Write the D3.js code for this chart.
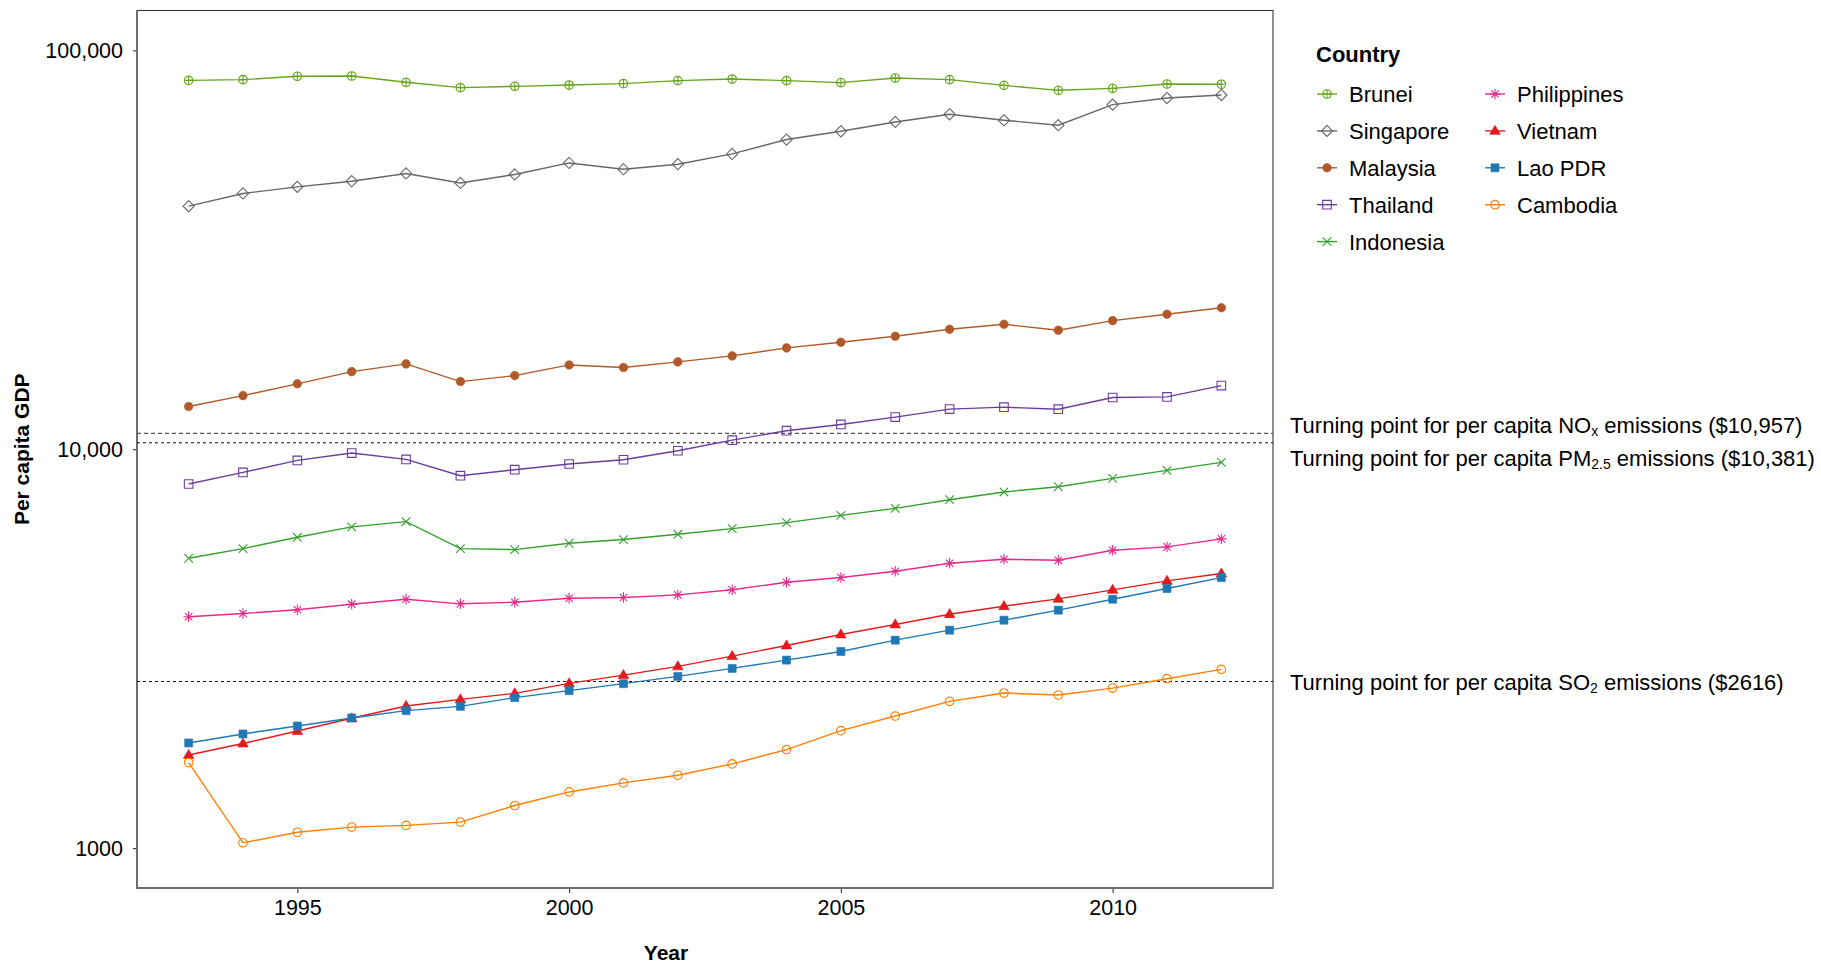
<!DOCTYPE html>
<html>
<head>
<meta charset="utf-8">
<script src="https://cdn.jsdelivr.net/npm/d3@7"></script>
<style>
  body { margin: 0; background: #fff; }
  svg text { font-family: "Liberation Sans", Arial, Helvetica, sans-serif; fill: #000; }
</style>
</head>
<body>
<div id="app"></div>
<script>
// years on the x axis
const years = [1993, 1994, 1995, 1996, 1997, 1998, 1999, 2000, 2001, 2002,
               2003, 2004, 2005, 2006, 2007, 2008, 2009, 2010, 2011, 2012];

// per capita GDP
const brunei      = [84100, 84450, 86100, 86250, 83170, 80650, 81260, 81870, 82540, 83970,
                     84760, 83970, 83020, 85250, 84450, 81730, 79410, 80320, 82370, 82230];
const singapore   = [40690, 43780, 45480, 46990, 49140, 46530, 48850, 52220, 50360, 51830,
                     55010, 59770, 62690, 66150, 69150, 66800, 64920, 73120, 75960, 77290];
const malaysia    = [12800, 13630, 14590, 15650, 16370, 14780, 15300, 16270, 16030, 16560,
                     17140, 17950, 18550, 19200, 19990, 20570, 19880, 21010, 21800, 22640];
const thailand    = [8183, 8748, 9376, 9784, 9430, 8584, 8886, 9184, 9412, 9913,
                     10540, 11130, 11540, 12040, 12610, 12750, 12600, 13480, 13530, 14440];
const indonesia   = [5330, 5636, 6015, 6387, 6584, 5636, 5603, 5811, 5937, 6120,
                     6324, 6546, 6828, 7109, 7474, 7815, 8055, 8451, 8849, 9268];
const philippines = [3802, 3875, 3959, 4088, 4207, 4097, 4135, 4231, 4249, 4315,
                     4442, 4640, 4768, 4944, 5177, 5299, 5267, 5580, 5690, 5961];
const vietnam     = [1712, 1829, 1966, 2116, 2272, 2360, 2443, 2588, 2715, 2855,
                     3029, 3221, 3433, 3637, 3859, 4041, 4217, 4442, 4678, 4880];
const laoPdr      = [1835, 1933, 2024, 2120, 2212, 2267, 2384, 2482, 2584, 2695,
                     2822, 2960, 3112, 3322, 3519, 3728, 3950, 4207, 4476, 4767];
const cambodia    = [1639, 1031, 1096, 1129, 1140, 1162, 1279, 1383, 1457, 1523,
                     1626, 1766, 1970, 2144, 2333, 2448, 2420, 2519, 2659, 2806];

const countries = ['Brunei', 'Singapore', 'Malaysia', 'Thailand', 'Indonesia',
                   'Philippines', 'Vietnam', 'Lao PDR', 'Cambodia'];
const seriesValues = [brunei, singapore, malaysia, thailand, indonesia,
                      philippines, vietnam, laoPdr, cambodia];

// turning points (dashed lines) and their labels: [before, subscript, after]
const turningPoints = [10957, 10381, 2616];
const turningLabels = [
  ['Turning point for per capita NO', 'x', ' emissions ($10,957)'],
  ['Turning point for per capita PM', '2.5', ' emissions ($10,381)'],
  ['Turning point for per capita SO', '2', ' emissions ($2616)']
];

const xTickValues = [1995, 2000, 2005, 2010];
const yTickValues = [1000, 10000, 100000];
const yTickLabels = ['1000', '10,000', '100,000'];

// styles
const colors = ['#66A61E', '#666666', '#B15928', '#6A3D9A', '#33A02C',
                '#E7298A', '#E31A1C', '#1F78B4', '#FF7F00'];
const shapes = ['circlePlus', 'diamond', 'dot', 'square', 'cross',
                'asterisk', 'triangle', 'squareFilled', 'circle'];
const refStyles = [
  { stroke: '#555', dash: '4,3', dy: -8 },
  { stroke: '#111', dash: '3,3', dy: 15 },
  { stroke: '#111', dash: '3,3', dy: 1 }
];

const width = 1821;
const height = 969;
const panel = { left: 137, right: 1273, top: 10.5, bottom: 888 };

const svg = d3.select('#app')
  .append('svg')
  .attr('width', width)
  .attr('height', height);

// ggplot-like 5% expansion
const xScale = d3.scaleLinear()
  .domain([1993 - 0.95, 2012 + 0.95])
  .range([panel.left, panel.right]);

const yScale = d3.scaleLog()
  .domain([Math.pow(10, 2.9), Math.pow(10, 5.1)])
  .range([panel.bottom, panel.top]);

function circ(r) {
  return `M${r},0A${r},${r} 0 1,1 ${-r},0A${r},${r} 0 1,1 ${r},0Z`;
}

function markerPath(shape) {
  switch (shape) {
    case 'circlePlus': { const r = 4.3; return circ(r) + `M${-r},0H${r}M0,${-r}V${r}`; }
    case 'diamond': { const r = 5.6; return `M0,${-r}L${r},0L0,${r}L${-r},0Z`; }
    case 'dot': return circ(4.3);
    case 'square': { const r = 4.3; return `M${-r},${-r}H${r}V${r}H${-r}Z`; }
    case 'cross': { const r = 4.3; return `M${-r},${-r}L${r},${r}M${-r},${r}L${r},${-r}`; }
    case 'asterisk': {
      const r = 5.2, d = 3.7;
      return `M0,${-r}V${r}M${-d},${-d}L${d},${d}M${-d},${d}L${d},${-d}M${-r},0H${r}`;
    }
    case 'triangle': { const r = 5.6; return `M0,${-r}L${r * 0.95},${r * 0.62}L${-r * 0.95},${r * 0.62}Z`; }
    case 'squareFilled': { const r = 4; return `M${-r},${-r}H${r}V${r}H${-r}Z`; }
    default: return circ(4.3);
  }
}
const isFilled = s => s === 'dot' || s === 'triangle' || s === 'squareFilled';

/* axes */
const yAxis = svg.append('g')
  .attr('transform', `translate(${panel.left},0)`)
  .call(d3.axisLeft(yScale).tickValues(yTickValues).tickSize(4).tickPadding(10)
    .tickFormat((d, i) => yTickLabels[i]));
const xAxis = svg.append('g')
  .attr('transform', `translate(0,${panel.bottom})`)
  .call(d3.axisBottom(xScale).tickValues(xTickValues).tickSize(5).tickPadding(7)
    .tickFormat(d3.format('d')));
[xAxis, yAxis].forEach(ax => {
  ax.select('.domain').remove();
  ax.selectAll('line').attr('stroke', '#333').attr('stroke-width', 1.1);
  ax.selectAll('text').attr('font-size', 21.5).attr('fill', '#111');
});

/* panel border */
svg.append('rect')
  .attr('x', panel.left).attr('y', panel.top)
  .attr('width', panel.right - panel.left)
  .attr('height', panel.bottom - panel.top)
  .attr('fill', 'none')
  .attr('stroke', '#333')
  .attr('stroke-width', 1.1);
svg.append('path')
  .attr('d', `M${panel.left},${panel.top}V${panel.bottom}H${panel.right}`)
  .attr('fill', 'none')
  .attr('stroke', '#6e6e6e')
  .attr('stroke-width', 2);

/* turning point lines */
svg.append('g')
  .selectAll('line')
  .data(turningPoints)
  .enter()
  .append('line')
  .attr('x1', panel.left)
  .attr('x2', panel.right)
  .attr('y1', d => yScale(d))
  .attr('y2', d => yScale(d))
  .attr('stroke', (d, i) => refStyles[i].stroke)
  .attr('stroke-width', 1.1)
  .attr('stroke-dasharray', (d, i) => refStyles[i].dash);

const refText = svg.append('g')
  .selectAll('text')
  .data(turningPoints)
  .enter()
  .append('text')
  .attr('x', 1290)
  .attr('y', (d, i) => yScale(d) + refStyles[i].dy)
  .attr('dy', '0.36em')
  .attr('font-size', 22);
refText.append('tspan').text((d, i) => turningLabels[i][0]);
refText.append('tspan').attr('font-size', 14).attr('dy', 3).text((d, i) => turningLabels[i][1]);
refText.append('tspan').attr('dy', -3).text((d, i) => turningLabels[i][2]);

/* series */
const series = countries.map((name, i) => ({
  name,
  color: colors[i],
  shape: shapes[i],
  values: years.map((yr, j) => ({ year: yr, value: seriesValues[i][j] }))
}));

const line = d3.line()
  .x(d => xScale(d.year))
  .y(d => yScale(d.value));

const groups = svg.append('g')
  .selectAll('g')
  .data(series)
  .enter()
  .append('g');

groups.append('path')
  .attr('d', d => line(d.values))
  .attr('fill', 'none')
  .attr('stroke', d => d.color)
  .attr('stroke-width', 1.4);

groups.each(function (s) {
  d3.select(this).selectAll('path.pt')
    .data(s.values)
    .enter()
    .append('path')
    .attr('class', 'pt')
    .attr('transform', d => `translate(${xScale(d.year)},${yScale(d.value)})`)
    .attr('d', markerPath(s.shape))
    .attr('fill', isFilled(s.shape) ? s.color : 'none')
    .attr('stroke', s.color)
    .attr('stroke-width', isFilled(s.shape) ? 0.6 : 1.1);
});

/* axis titles */
svg.append('text')
  .attr('x', 666)
  .attr('y', 952)
  .attr('dy', '0.36em')
  .attr('text-anchor', 'middle')
  .attr('font-size', 21)
  .attr('font-weight', 'bold')
  .text('Year');

svg.append('text')
  .attr('transform', `translate(21,${(panel.top + panel.bottom) / 2}) rotate(-90)`)
  .attr('dy', '0.36em')
  .attr('text-anchor', 'middle')
  .attr('font-size', 21)
  .attr('font-weight', 'bold')
  .text('Per capita GDP');

/* legend */
const legend = svg.append('g');
legend.append('text')
  .attr('x', 1316)
  .attr('y', 54)
  .attr('dy', '0.36em')
  .attr('font-size', 22)
  .attr('font-weight', 'bold')
  .text('Country');

const items = legend.selectAll('g.item')
  .data(series)
  .enter()
  .append('g')
  .attr('class', 'item')
  .attr('transform', (d, i) => {
    const col = i < 5 ? 0 : 1;
    const row = i < 5 ? i : i - 5;
    return `translate(${col === 0 ? 1327 : 1495},${94 + row * 36.9})`;
  });

items.append('line')
  .attr('x1', -10).attr('x2', 10)
  .attr('stroke', d => d.color)
  .attr('stroke-width', 1.4);
items.append('path')
  .attr('d', d => markerPath(d.shape))
  .attr('fill', d => isFilled(d.shape) ? d.color : 'none')
  .attr('stroke', d => d.color)
  .attr('stroke-width', d => isFilled(d.shape) ? 0.6 : 1.1);
items.append('text')
  .attr('x', 22)
  .attr('dy', '0.36em')
  .attr('font-size', 22)
  .text(d => d.name);
</script>
</body>
</html>
